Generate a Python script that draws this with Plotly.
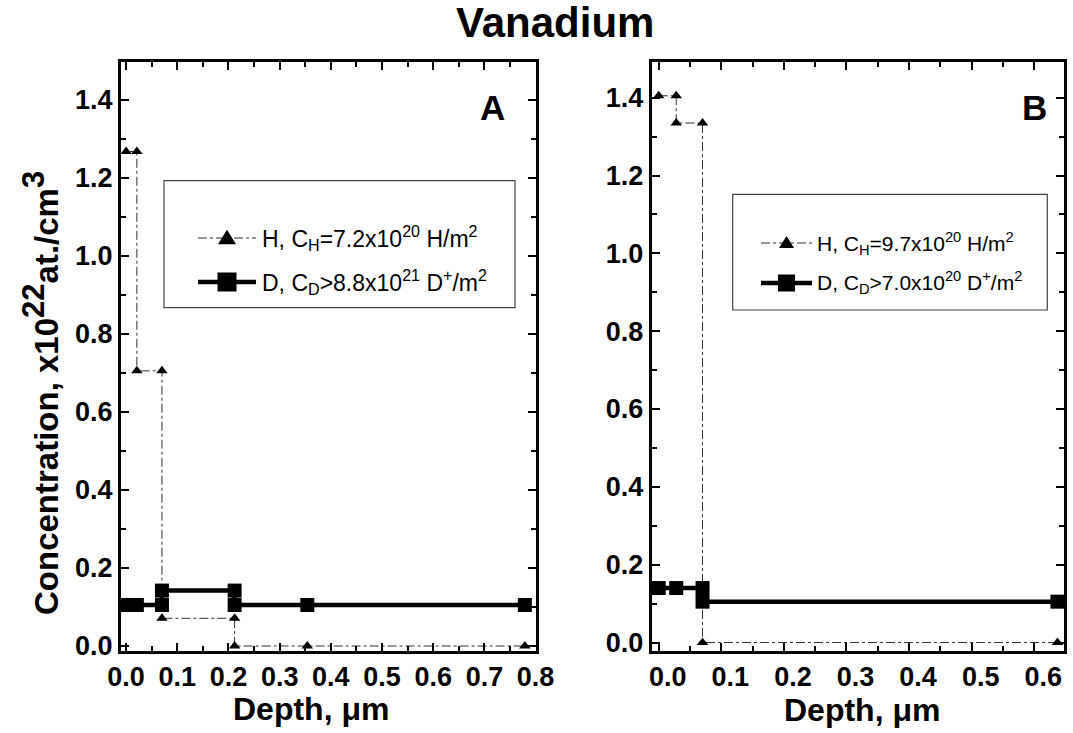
import plotly.graph_objects as go

# ---------------- data ----------------
# Panel A
hA_x = [0.0, 0.021, 0.021, 0.070, 0.070, 0.212, 0.212, 0.354, 0.779]
hA_y = [1.267, 1.267, 0.705, 0.705, 0.071, 0.071, 0.0, 0.0, 0.0]
dA_x = [0.0, 0.021, 0.070, 0.070, 0.212, 0.212, 0.354, 0.779]
dA_y = [0.105, 0.105, 0.105, 0.142, 0.142, 0.105, 0.105, 0.105]
# Panel B
hB_x = [0.0, 0.028, 0.028, 0.070, 0.070, 0.637]
hB_y = [1.405, 1.405, 1.335, 1.335, 0.0, 0.0]
dB_x = [0.0, 0.028, 0.070, 0.070, 0.637]
dB_y = [0.140, 0.140, 0.140, 0.105, 0.105]

legA_H = "H, C<sub>H</sub>=7.2x10<sup>20</sup> H/m<sup>2</sup>"
legA_D = "D, C<sub>D</sub>&gt;8.8x10<sup>21</sup> D<sup>+</sup>/m<sup>2</sup>"
legB_H = "H, C<sub>H</sub>=9.7x10<sup>20</sup> H/m<sup>2</sup>"
legB_D = "D, C<sub>D</sub>&gt;7.0x10<sup>20</sup> D<sup>+</sup>/m<sup>2</sup>"

title = "Vanadium"
x_title = "Depth, \u03bcm"
y_title = ("Concentration, x10<sup><span style='font-size:31px'>22</span></sup>"
           "at./cm<sup><span style='font-size:31px'>3</span></sup>")

FONT = "Liberation Sans, Arial, sans-serif"
W, H = 1073, 733


def px(x):
    return x / W


def py(y):
    return 1 - y / H


fig = go.Figure()

h_line = dict(color="#333333", width=1, dash="dashdot")
d_line = dict(color="black", width=4.5)

fig.add_trace(go.Scatter(x=hA_x, y=hA_y, mode="lines+markers", name=legA_H, showlegend=False,
                         line=h_line, marker=dict(symbol="triangle-up", size=10, color="black"),
                         xaxis="x", yaxis="y", cliponaxis=False))
fig.add_trace(go.Scatter(x=dA_x, y=dA_y, mode="lines+markers", name=legA_D, showlegend=False,
                         line=d_line, marker=dict(symbol="square", size=14, color="black"),
                         xaxis="x", yaxis="y", cliponaxis=False))
fig.add_trace(go.Scatter(x=hB_x, y=hB_y, mode="lines+markers", name=legB_H, showlegend=False,
                         line=h_line, marker=dict(symbol="triangle-up", size=10, color="black"),
                         xaxis="x2", yaxis="y2", cliponaxis=False))
fig.add_trace(go.Scatter(x=dB_x, y=dB_y, mode="lines+markers", name=legB_D, showlegend=False,
                         line=d_line, marker=dict(symbol="square", size=14, color="black"),
                         xaxis="x2", yaxis="y2", cliponaxis=False))

axis_common = dict(
    showline=True, linecolor="black", linewidth=3, mirror="ticks",
    ticks="inside", ticklen=8, tickwidth=2, tickcolor="black",
    showgrid=False, zeroline=False, automargin=False,
    tickfont=dict(family=FONT, size=27, color="black", weight="bold"),
    minor=dict(ticks="inside", ticklen=5, tickwidth=2, tickcolor="black", showgrid=False),
)

ydom = [py(650.5), py(62.3)]

# ---- legend samples drawn in pixel space ----
shapes = []
annotations = []


def tri_path(cx, cy, w, h):
    return (f"M{px(cx - w / 2)},{py(cy + h / 2)} L{px(cx + w / 2)},{py(cy + h / 2)} "
            f"L{px(cx)},{py(cy - h / 2)} Z")


def sq_path(cx, cy, s):
    return (f"M{px(cx - s / 2)},{py(cy + s / 2)} L{px(cx + s / 2)},{py(cy + s / 2)} "
            f"L{px(cx + s / 2)},{py(cy - s / 2)} L{px(cx - s / 2)},{py(cy - s / 2)} Z")


def legend_block(box, x0, x1, yH, yD, txt_x, txtH, txtD, fsize, tri, sq):
    bx0, by0, bx1, by1 = box
    shapes.append(dict(type="rect", xref="paper", yref="paper",
                       x0=px(bx0), x1=px(bx1), y0=py(by1), y1=py(by0),
                       line=dict(color="#444444", width=1.2)))
    cx = (x0 + x1) / 2
    shapes.append(dict(type="line", xref="paper", yref="paper",
                       x0=px(x0), x1=px(x1), y0=py(yH), y1=py(yH),
                       line=dict(color="#333333", width=1, dash="dashdot")))
    shapes.append(dict(type="path", xref="paper", yref="paper", path=tri_path(cx, yH - 1, tri, tri * 0.8),
                       fillcolor="black", line=dict(color="black", width=0)))
    shapes.append(dict(type="line", xref="paper", yref="paper",
                       x0=px(x0), x1=px(x1), y0=py(yD), y1=py(yD),
                       line=dict(color="black", width=4.5)))
    shapes.append(dict(type="path", xref="paper", yref="paper", path=sq_path(cx, yD, sq),
                       fillcolor="black", line=dict(color="black", width=0)))
    for t, yy in ((txtH, yH), (txtD, yD)):
        annotations.append(dict(text=t, x=px(txt_x), y=py(yy), xref="paper", yref="paper",
                                showarrow=False, xanchor="left", yanchor="middle",
                                font=dict(family=FONT, size=fsize, color="black")))


legend_block((164, 180.7, 515, 307.7), 198, 256, 238, 282, 260, legA_H, legA_D, 23, 18, 19)
legend_block((732.7, 194.3, 1047.3, 310), 761, 812, 243, 283, 815, legB_H, legB_D, 21, 15, 17)

annotations += [
    dict(text="<b>" + title + "</b>", x=px(555), y=py(23), xref="paper", yref="paper",
         showarrow=False, xanchor="center", yanchor="middle",
         font=dict(family=FONT, size=42, color="black")),
    dict(text="<b>A</b>", x=px(492), y=py(107), xref="paper", yref="paper",
         showarrow=False, xanchor="center", yanchor="middle",
         font=dict(family=FONT, size=35, color="black")),
    dict(text="<b>B</b>", x=px(1034), y=py(107), xref="paper", yref="paper",
         showarrow=False, xanchor="center", yanchor="middle",
         font=dict(family=FONT, size=35, color="black")),
    dict(text="<b>" + y_title + "</b>", x=px(40), y=py(393), xref="paper", yref="paper",
         showarrow=False, xanchor="center", yanchor="middle", textangle=-90,
         font=dict(family=FONT, size=33, color="black")),
    dict(text="<b>" + x_title + "</b>", x=px(311), y=py(709), xref="paper", yref="paper",
         showarrow=False, xanchor="center", yanchor="middle",
         font=dict(family=FONT, size=32, color="black")),
    dict(text="<b>" + x_title + "</b>", x=px(862), y=py(710), xref="paper", yref="paper",
         showarrow=False, xanchor="center", yanchor="middle",
         font=dict(family=FONT, size=32, color="black")),
]

fig.update_layout(
    width=W, height=H,
    margin=dict(l=0, r=0, t=0, b=0, pad=0, autoexpand=False),
    paper_bgcolor="white", plot_bgcolor="white",
    font=dict(family=FONT, color="black"),
    showlegend=False,
    hovermode=False,
    xaxis=dict(axis_common, domain=[px(121), px(535.6)], range=[-0.01, 0.8],
               dtick=0.1, tick0=0, tickformat=".1f", minor_dtick=0.05, anchor="y"),
    yaxis=dict(axis_common, domain=ydom, range=[-0.0115, 1.4956], dtick=0.2, tick0=0,
               tickformat=".1f", minor_dtick=0.1, anchor="x"),
    xaxis2=dict(axis_common, domain=[px(651.7), px(1064)], range=[-0.0112, 0.6475],
                dtick=0.1, tick0=0, tickformat=".1f", minor_dtick=0.05, anchor="y2",
                ticklabelshift=9),
    yaxis2=dict(axis_common, domain=ydom, range=[-0.0205, 1.491], dtick=0.2, tick0=0,
                tickformat=".1f", minor_dtick=0.1, anchor="x2"),
    shapes=shapes,
    annotations=annotations,
)

fig.write_html("out.html", config={"displayModeBar": False, "staticPlot": True},
               post_script="document.body.style.margin='0';document.body.style.overflow='hidden';")
